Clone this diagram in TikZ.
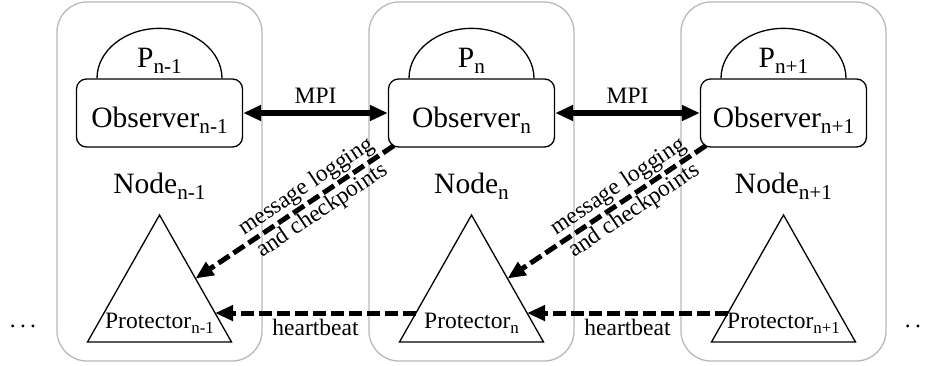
\documentclass[tikz,border=0pt]{standalone}
\usepackage{fontspec}
\setmainfont{Liberation Serif}
\usepackage{graphicx}
\usetikzlibrary{arrows.meta,calc}

% lowered, reduced subscript
\newcommand{\lsub}[1]{\raisebox{-0.22em}{\scalebox{0.72}{#1}}}
% widely spaced continuation dots
\newcommand{\wdots}{.\kern4.3pt.\kern4.3pt.}

\begin{document}
\begin{tikzpicture}[x=1pt,y=-1pt,
  container/.style={draw=black!28, line width=1.3pt, rounded corners=30pt,
    minimum width=205pt, minimum height=359pt, inner sep=0pt},
  observer/.style={draw, line width=1.3pt, rounded corners=10pt,
    minimum width=166pt, minimum height=68pt, inner sep=0pt},
  shapeline/.style={line width=1.3pt},
  big/.style={font=\fontsize{29.5}{32}\selectfont, inner sep=0pt},
  small/.style={font=\fontsize{23.5}{26}\selectfont, inner sep=0pt},
  tip/.tip={Triangle[length=18pt,width=15pt]},
  mpi/.style={line width=5.5pt, tip-tip},
  dasharrow/.style={line width=5pt, dash pattern=on 13pt off 5pt, -tip},
]
\clip (0,0) rectangle (926,365);
\useasboundingbox (0,0) rectangle (926,365);

\foreach \i/\cx/\idx in {1/159.5/n-1, 2/471.5/n, 3/783.5/n+1}{
  % compute-node container
  \node[container] (box\i) at (\cx,181.5) {};
  % observer with the process dome on top
  \node[observer] (obs\i) at (\cx,113) {};
  \draw[shapeline] ($(obs\i.north)+(-62.5,0)$)
    arc[start angle=180, end angle=0, x radius=62.5pt, y radius=50pt];
  \node[big, anchor=base] (p\i) at (\cx,67) {P\lsub{\idx}};
  \node[big, anchor=base] (obstxt\i) at (\cx,127) {Observer\lsub{\idx}};
  \node[big, anchor=base] (nodetxt\i) at (\cx,193) {Node\lsub{\idx}};
  % protector triangle
  \coordinate (tapex\i) at (\cx,215);
  \coordinate (tbr\i) at (\cx+72,342);
  \coordinate (tbl\i) at (\cx-72,342);
  \draw[shapeline] (tapex\i) -- (tbr\i) -- (tbl\i) -- cycle;
  \node[small, anchor=base] (prot\i) at (\cx,328) {Protector\lsub{\idx}};
  % attachment points on the triangle sides
  \coordinate (rmid\i) at ($(tapex\i)!0.5!(tbr\i)$);
  \coordinate (rlow\i) at ($(tapex\i)!0.772!(tbr\i)$);
  \coordinate (llow\i) at ($(tapex\i)!0.772!(tbl\i)$);
}

% MPI links between observers
\draw[mpi] (obs1.east) -- (obs2.west);
\draw[mpi] (obs2.east) -- (obs3.west);
\node[small, anchor=base] (mpi1) at ($(obs1.east)!0.5!(obs2.west)+(0,-10)$) {MPI};
\node[small, anchor=base] (mpi2) at ($(obs2.east)!0.5!(obs3.west)+(0,-10)$) {MPI};

% logging and checkpoint traffic to the neighbouring protector
\draw[dasharrow] ($(obs2.south west)+(6,-2)$) -- (rmid1)
  node[small, sloped, pos=0.4, align=center] (log1) {message logging\\[3pt]and checkpoints};
\draw[dasharrow] ($(obs3.south west)+(6,-2)$) -- (rmid2)
  node[small, sloped, pos=0.4, align=center] (log2) {message logging\\[3pt]and checkpoints};

% heartbeats between protectors
\draw[dasharrow] (llow2) -- (rlow1);
\draw[dasharrow] (llow3) -- (rlow2);
\node[small, anchor=base] (hb1) at ($(llow2)!0.5!(rlow1)+(0,22)$) {heartbeat};
\node[small, anchor=base] (hb2) at ($(llow3)!0.5!(rlow2)+(0,22)$) {heartbeat};

% continuation marks
\node[small, anchor=base] (dotsl) at (23,327) {\wdots};
\node[small, anchor=base] (dotsr) at (918,327) {\wdots};
\end{tikzpicture}
\end{document}
